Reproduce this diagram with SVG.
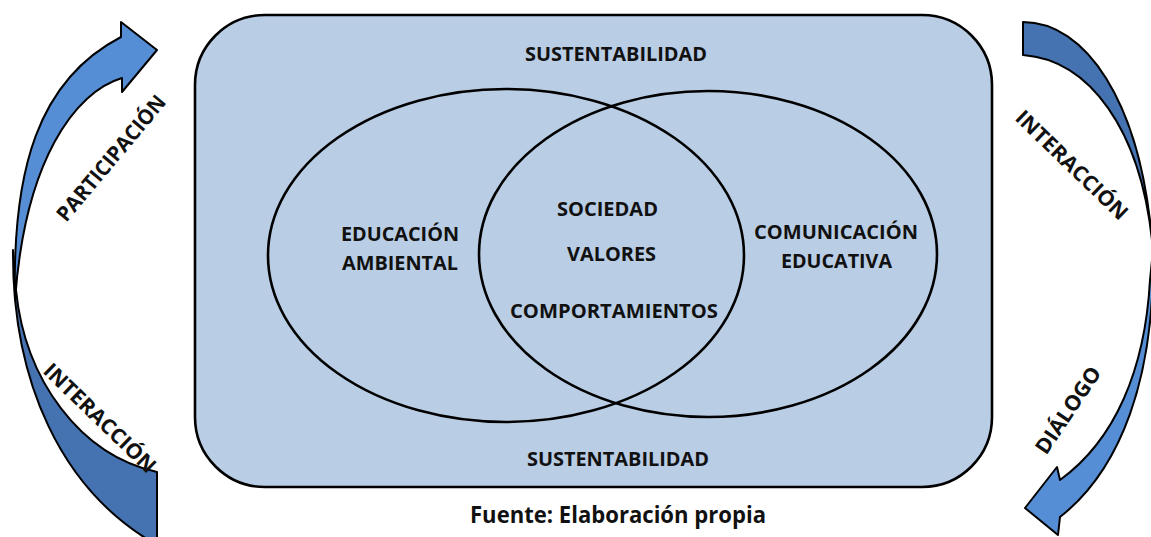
<svg xmlns="http://www.w3.org/2000/svg" width="1151" height="537" viewBox="0 0 1151 537">
  <style>
    .lbl { font-family: "Open Sans", "Lato", "Liberation Sans", sans-serif; font-weight: bold; fill: #111; text-anchor: middle; }
    .s20 { font-size: 20px; }
    .s21 { font-size: 21px; }
    .ring { fill: none; stroke: #000; stroke-width: 2.6; }
    .light { fill: #558ED5; stroke: #000; stroke-width: 2; stroke-linejoin: round; }
    .dark { fill: #4572B0; stroke: #000; stroke-width: 2; stroke-linejoin: round; }
  </style>
  <rect width="1151" height="537" fill="#ffffff"/>

  <g id="frame">
    <rect x="195" y="15" width="797" height="472" rx="70" ry="70" fill="#B9CDE5" stroke="#000" stroke-width="2.6"/>
    <text class="lbl s20" x="616" y="61" textLength="182" lengthAdjust="spacingAndGlyphs">SUSTENTABILIDAD</text>
    <text class="lbl s20" x="618" y="466" textLength="182" lengthAdjust="spacingAndGlyphs">SUSTENTABILIDAD</text>
  </g>

  <g id="educacion-ambiental">
    <ellipse class="ring" cx="506" cy="255.5" rx="238" ry="166.5"/>
    <text class="lbl s20" x="400" y="241" textLength="118" lengthAdjust="spacingAndGlyphs">EDUCACIÓN</text>
    <text class="lbl s20" x="400" y="270" textLength="116" lengthAdjust="spacingAndGlyphs">AMBIENTAL</text>
  </g>

  <g id="comunicacion-educativa">
    <ellipse class="ring" cx="708" cy="254" rx="229" ry="163"/>
    <text class="lbl s20" x="836" y="239" textLength="164" lengthAdjust="spacingAndGlyphs">COMUNICACIÓN</text>
    <text class="lbl s20" x="836.5" y="268" textLength="111" lengthAdjust="spacingAndGlyphs">EDUCATIVA</text>
  </g>

  <g id="interseccion">
    <text class="lbl s20" x="607.5" y="216" textLength="101" lengthAdjust="spacingAndGlyphs">SOCIEDAD</text>
    <text class="lbl s20" x="611.5" y="261" textLength="89" lengthAdjust="spacingAndGlyphs">VALORES</text>
    <text class="lbl s20" x="614" y="318" textLength="208" lengthAdjust="spacingAndGlyphs">COMPORTAMIENTOS</text>
  </g>

  <g id="connectors">
    <g id="arrow-left">
      <path class="dark" d="M 13,250 C 12,380 60,490 157,545 L 157,472 C 80,455 25,380 16,290 Z"/>
      <path class="light" d="M 121,37 L 121,22 L 157,50 L 122,92 L 122,78 C 75,92 25,160 15,300 C 12,170 38,80 121,37 Z"/>
      <text class="lbl s21" transform="translate(111,158) rotate(-50)" x="0" y="7.5" textLength="157" lengthAdjust="spacingAndGlyphs">PARTICIPACIÓN</text>
      <text class="lbl s21" transform="translate(100,418) rotate(44)" x="0" y="7.5" textLength="147" lengthAdjust="spacingAndGlyphs">INTERACCIÓN</text>
    </g>
    <g id="arrow-right">
      <path class="dark" d="M 1023,22 C 1085,22 1140,100 1152,240 C 1140,130 1090,60 1023,55 Z"/>
      <path class="light" d="M 1153,250 C 1155,380 1120,470 1060,517 L 1058,535 L 1025,508 L 1057,467 L 1060,480 C 1115,440 1145,370 1150,280 Z"/>
      <text class="lbl s21" transform="translate(1072,165) rotate(44)" x="0" y="7.5" textLength="147" lengthAdjust="spacingAndGlyphs">INTERACCIÓN</text>
      <text class="lbl s21" transform="translate(1068,410) rotate(-56)" x="0" y="7.5" textLength="100" lengthAdjust="spacingAndGlyphs">DIÁLOGO</text>
    </g>
  </g>

  <g id="fuente">
    <text class="lbl" style="font-size:23px" x="618" y="523" textLength="296" lengthAdjust="spacingAndGlyphs">Fuente: Elaboración propia</text>
  </g>
</svg>
